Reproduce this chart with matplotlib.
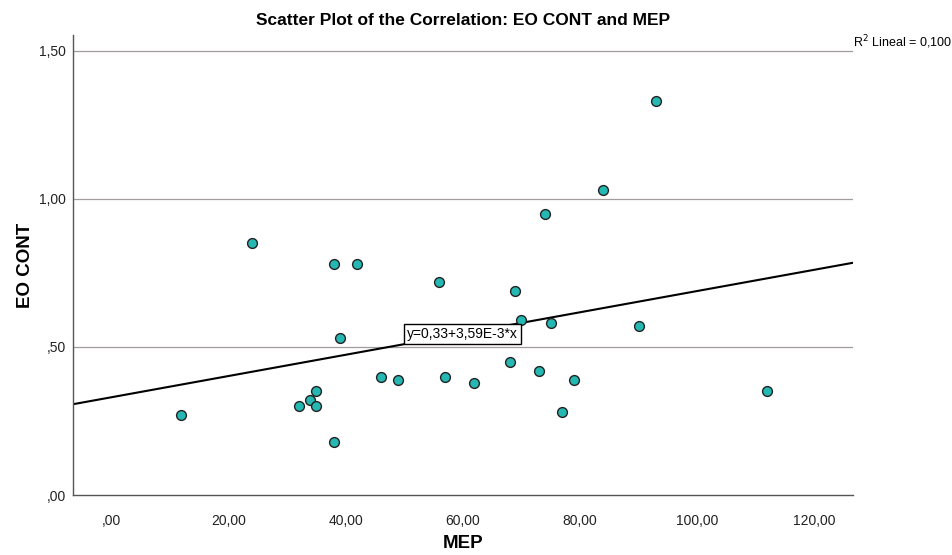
import matplotlib
matplotlib.use("Agg")
import matplotlib.pyplot as plt
from matplotlib.ticker import FuncFormatter

plt.rcParams['font.family'] = ['Liberation Sans', 'DejaVu Sans']

# MEP vs EO CONT
mep = [12, 24, 38, 42, 39, 32, 34, 35, 35, 38, 56, 69, 70, 75, 46, 49, 57,
       62, 68, 73, 79, 77, 93, 84, 74, 90, 112]
eo_cont = [0.27, 0.85, 0.78, 0.78, 0.53, 0.30, 0.32, 0.35, 0.30, 0.18, 0.72,
           0.69, 0.59, 0.58, 0.40, 0.39, 0.40, 0.38, 0.45, 0.42, 0.39, 0.28,
           1.33, 1.03, 0.95, 0.57, 0.35]

# linear fit reported in the chart
intercept = 0.33
slope = 3.59e-3
r2 = 0.100

x_ticks = [0, 20, 40, 60, 80, 100, 120]
y_ticks = [0, 0.5, 1.0, 1.5]
x_range = (-6.5, 126.6)
y_range = (0, 1.554)


def spss_fmt(v, pos=None):
    s = f"{v:.2f}".replace('.', ',')
    if s.startswith('0,'):
        s = s[1:]
    return s


fig = plt.figure(figsize=(9.52, 5.55), dpi=100)
ax = fig.add_axes([0.0767, 0.1081, 0.8193, 0.8289])

ax.set_xlim(*x_range)
ax.set_ylim(*y_range)

for yv in y_ticks[1:]:
    ax.axhline(yv, color='#a39c9c', lw=0.9, zorder=1)

xs = list(x_range)
ax.plot(xs, [intercept + slope * v for v in xs], color='black', lw=1.5, zorder=2)

ax.scatter(mep, eo_cont, s=50, facecolor='#25b8b2', edgecolor='#222222',
           linewidth=1.0, zorder=3)

ax.set_xticks(x_ticks)
ax.set_yticks(y_ticks)
ax.xaxis.set_major_formatter(FuncFormatter(spss_fmt))
ax.yaxis.set_major_formatter(FuncFormatter(spss_fmt))
ax.tick_params(length=0, labelsize=10, labelcolor='#222222')
ax.tick_params(axis='x', pad=14)
ax.tick_params(axis='y', pad=5)

for side in ['top', 'right']:
    ax.spines[side].set_visible(False)
for side in ['left', 'bottom']:
    ax.spines[side].set_color('#555555')
    ax.spines[side].set_linewidth(1.0)

ax.set_title("Scatter Plot of the Correlation: EO CONT and MEP",
             fontsize=12.5, fontweight='bold', pad=7)
ax.set_xlabel("MEP", fontsize=13.5, fontweight='bold', labelpad=5)
ax.set_ylabel("EO CONT", fontsize=13.5, fontweight='bold', labelpad=4)

ax.text(60, 0.544, "y=0,33+3,59E-3*x", fontsize=10, ha='center', va='center',
        bbox=dict(boxstyle='square,pad=0.2', facecolor='white',
                  edgecolor='black', linewidth=1.0), zorder=4)

ax.text(1.0, 1.5, "R$^2$ Lineal = " + f"{r2:.3f}".replace('.', ','),
        transform=ax.get_yaxis_transform(), fontsize=9, ha='left',
        va='bottom', clip_on=False)

fig.savefig("out.png", dpi=100, facecolor='white')
